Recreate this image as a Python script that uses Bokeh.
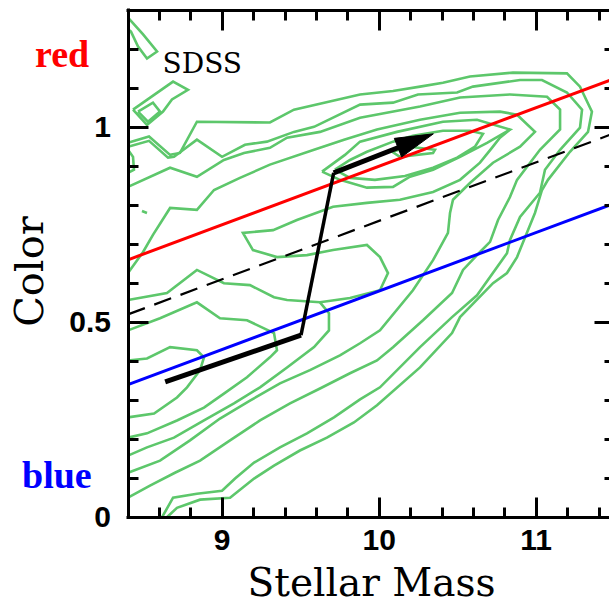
import numpy as np
from bokeh.plotting import figure
from bokeh.models import Range1d, LinearAxis, SingleIntervalTicker, NumeralTickFormatter, Label
from bokeh.embed import file_html
from bokeh.resources import INLINE

# ---------------- data ----------------
x_ticks_interval = 1.0
y_ticks_interval = 0.5
x_label = "Stellar Mass"
y_label = "Color"
x_lim = (8.4, 11.5)
y_lim = (0.0, 1.3)

# contour lines (stellar mass, color)
c1_x = [8.400, 8.534, 8.668, 8.731, 8.839, 9.304, 9.457, 9.878, 10.088, 10.260, 10.406, 10.578, 10.852, 11.196, 11.279, 11.355, 11.330, 11.215, 11.075, 11.037, 10.992, 10.878, 10.814, 10.725, 10.515, 10.464, 10.260, 9.986, 9.839, 9.667, 9.495, 9.330, 9.203, 9.050, 8.859, 8.712, 8.648]
c1_y = [0.960, 0.976, 0.929, 0.934, 1.014, 1.012, 1.045, 1.084, 1.093, 1.104, 1.114, 1.130, 1.140, 1.138, 1.104, 1.040, 0.988, 0.937, 0.865, 0.839, 0.780, 0.667, 0.626, 0.600, 0.513, 0.472, 0.384, 0.287, 0.243, 0.204, 0.171, 0.132, 0.099, 0.050, 0.045, 0.024, 0.000]

c2_x = [8.400, 8.534, 8.655, 8.693, 8.839, 8.999, 9.145, 9.285, 9.457, 9.585, 9.878, 10.088, 10.247, 10.496, 10.597, 10.897, 11.037, 11.196, 11.292, 11.279, 11.152, 11.056, 11.024, 10.897, 10.833, 10.814, 10.623, 10.464, 10.260, 10.005, 9.878, 9.712, 9.540, 9.368, 9.203, 9.082, 8.999, 8.839, 8.687, 8.617]
c2_y = [0.950, 0.965, 0.922, 0.924, 0.968, 0.924, 0.955, 0.963, 0.988, 1.001, 1.058, 1.063, 1.084, 1.089, 1.104, 1.121, 1.121, 1.089, 1.045, 0.999, 0.942, 0.891, 0.832, 0.770, 0.711, 0.677, 0.569, 0.513, 0.436, 0.333, 0.302, 0.256, 0.215, 0.179, 0.140, 0.099, 0.068, 0.060, 0.050, 0.000]

c3_x = [8.400, 8.668, 8.839, 9.011, 9.139, 9.304, 9.413, 9.623, 9.878, 10.260, 10.515, 10.833, 11.069, 11.152, 11.152, 11.024, 10.878, 10.833, 10.757, 10.706, 10.642, 10.534, 10.464, 10.279, 10.088, 9.986, 9.814, 9.623, 9.432, 9.241, 9.050, 8.859, 8.699, 8.540, 8.400]
c3_y = [0.847, 0.896, 0.873, 0.916, 0.934, 0.947, 0.973, 0.988, 1.024, 1.053, 1.076, 1.084, 1.078, 1.045, 0.994, 0.942, 0.865, 0.821, 0.762, 0.706, 0.680, 0.634, 0.575, 0.505, 0.436, 0.402, 0.369, 0.330, 0.292, 0.248, 0.197, 0.145, 0.114, 0.081, 0.050]

c4_x = [8.400, 8.496, 8.559, 8.668, 8.839, 8.948, 9.113, 9.304, 9.585, 9.776, 9.986, 10.260, 10.515, 10.769, 10.878, 10.992, 10.897, 10.725, 10.578, 10.470, 10.451, 10.438, 10.343, 10.215, 10.005, 9.878, 9.750, 9.559, 9.368, 9.177, 8.986, 8.795, 8.604, 8.400]
c4_y = [0.626, 0.680, 0.724, 0.793, 0.788, 0.839, 0.870, 0.904, 0.942, 0.968, 0.994, 1.019, 1.037, 1.040, 1.032, 0.988, 0.950, 0.909, 0.857, 0.814, 0.780, 0.729, 0.659, 0.582, 0.479, 0.446, 0.415, 0.377, 0.343, 0.299, 0.253, 0.197, 0.145, 0.114]

c5_x = [8.400, 8.648, 8.839, 9.011, 9.177, 9.330, 9.413, 9.623, 9.814, 10.005, 10.056, 10.005, 9.922, 9.706, 9.540, 9.349, 9.196, 9.132, 9.324, 9.476, 9.706, 9.922, 10.132, 10.343, 10.515, 10.642, 10.718, 10.769, 10.833]
c5_y = [0.557, 0.575, 0.634, 0.600, 0.595, 0.564, 0.557, 0.551, 0.562, 0.582, 0.626, 0.667, 0.698, 0.685, 0.672, 0.667, 0.685, 0.729, 0.736, 0.762, 0.796, 0.806, 0.814, 0.834, 0.865, 0.909, 0.947, 0.973, 0.994]

c5b_x = [9.623, 9.680, 9.680, 9.585, 9.413, 9.241, 9.075, 8.884, 8.693, 8.521, 8.400]
c5b_y = [0.551, 0.523, 0.479, 0.436, 0.384, 0.333, 0.292, 0.248, 0.204, 0.179, 0.158]

c6_x = [8.400, 8.604, 8.839, 8.986, 9.158, 9.330, 9.349, 9.304, 9.158, 9.011, 8.884, 8.712, 8.521, 8.400]
c6_y = [0.479, 0.510, 0.551, 0.510, 0.505, 0.472, 0.428, 0.410, 0.359, 0.317, 0.281, 0.248, 0.215, 0.204]

c7_x = [8.400, 8.521, 8.668, 8.839, 8.884, 8.859, 8.776, 8.712, 8.566, 8.400]
c7_y = [0.402, 0.407, 0.436, 0.428, 0.410, 0.377, 0.333, 0.307, 0.266, 0.256]

p5_x = [9.636, 9.782, 9.878, 10.113, 10.406, 10.623, 10.833, 10.687, 10.515, 10.343, 10.196, 10.088, 9.922, 9.750, 9.636]
p5_y = [0.886, 0.929, 0.963, 0.988, 1.014, 1.019, 0.994, 0.960, 0.924, 0.891, 0.873, 0.847, 0.845, 0.865, 0.886]

p6_x = [9.718, 9.814, 9.922, 10.088, 10.215, 10.406, 10.578, 10.661, 10.610, 10.496, 10.343, 10.164, 9.973, 9.814, 9.718]
p6_y = [0.891, 0.916, 0.937, 0.963, 0.978, 0.991, 0.991, 0.983, 0.950, 0.922, 0.896, 0.875, 0.865, 0.870, 0.891]

p7_x = [10.082, 10.132, 10.343, 10.355, 10.196, 10.082]
p7_y = [0.937, 0.924, 0.934, 0.942, 0.950, 0.937]

b1_x = [8.400, 8.496, 8.585, 8.521, 8.464, 8.419, 8.400]
b1_y = [1.281, 1.238, 1.194, 1.176, 1.207, 1.245, 1.251]

b2_x = [8.432, 8.687, 8.782, 8.680, 8.623, 8.521, 8.432]
b2_y = [1.045, 1.117, 1.096, 1.071, 1.040, 1.006, 1.045]

b3_x = [8.464, 8.559, 8.604, 8.527, 8.464]
b3_y = [1.040, 1.063, 1.040, 1.014, 1.040]

b4_x = [8.400, 8.432, 8.438, 8.400]
b4_y = [0.942, 0.924, 0.891, 0.883]

b5_x = [8.489, 8.521]
b5_y = [0.785, 0.780]

# straight lines: red sequence, blue cloud, divider
red_x = [8.4, 11.5]
red_y = [0.660, 1.125]
blue_x = [8.4, 11.5]
blue_y = [0.340, 0.805]
div_x = [8.4, 11.5]
div_y = [0.520, 0.985]

# evolutionary track (arrow)
track_x = [8.637, 9.502, 9.710, 10.345]
track_y = [0.347, 0.467, 0.883, 0.983]

# ---------------- figure ----------------
W, H = 609, 608
PX_X = 157.0   # pixels per unit of stellar mass
PX_Y = 390.0   # pixels per unit of color
X0 = x_lim[0] - 127.5 / PX_X
X1 = X0 + W / PX_X
Y0 = y_lim[0] - 91.3 / PX_Y
Y1 = Y0 + H / PX_Y
GREEN = "#5dc76b"

p = figure(width=W, height=H,
           x_range=Range1d(X0, X1), y_range=Range1d(Y0, Y1),
           output_backend="svg", toolbar_location=None,
           x_axis_location=None, y_axis_location=None,
           min_border=0, min_border_left=0, min_border_right=0,
           min_border_top=0, min_border_bottom=0)
p.outline_line_color = None
p.grid.visible = False
p.background_fill_color = "white"
p.border_fill_color = "white"


def make_axis(interval, loc, bounds, show_labels, tick_in=20, minor_in=10, line=True):
    ax = LinearAxis(ticker=SingleIntervalTicker(interval=interval, num_minor_ticks=5),
                    fixed_location=loc, bounds=bounds)
    ax.axis_line_width = 3
    ax.axis_line_color = "black" if line else None
    ax.major_tick_line_width = 3
    ax.minor_tick_line_width = 3
    ax.major_tick_in = tick_in
    ax.major_tick_out = 0
    ax.minor_tick_in = minor_in
    ax.minor_tick_out = 0
    if show_labels:
        ax.major_label_text_font = "Liberation Sans"
        ax.major_label_text_font_style = "bold"
        ax.major_label_text_font_size = "30px"
        ax.major_label_text_color = "black"
        ax.formatter = NumeralTickFormatter(format="0.[0]")
    else:
        ax.major_label_text_color = None
    return ax


xb = (x_lim[0] - 0.01, x_lim[1])
yb = (y_lim[0], y_lim[1] + 0.004)
bottom = make_axis(x_ticks_interval, y_lim[0], xb, True)
bottom.major_label_standoff = 13
left = make_axis(y_ticks_interval, x_lim[0], yb, True)
left.major_label_standoff = 17
top = make_axis(x_ticks_interval, y_lim[1], xb, False)
right = make_axis(y_ticks_interval, x_lim[1], yb, False, line=False)
p.add_layout(bottom, "below")
p.add_layout(left, "left")
p.add_layout(top, "above")
p.add_layout(right, "right")

# contours
cx = [c1_x, c2_x, c3_x, c4_x, c5_x, c5b_x, c6_x, c7_x, p5_x, p6_x, p7_x, b1_x, b2_x, b3_x, b4_x, b5_x]
cy = [c1_y, c2_y, c3_y, c4_y, c5_y, c5b_y, c6_y, c7_y, p5_y, p6_y, p7_y, b1_y, b2_y, b3_y, b4_y, b5_y]
p.multi_line(xs=cx, ys=cy, line_color=GREEN, line_width=2.6, line_join="miter")

# reference lines
p.line(red_x, red_y, line_color="#ff0000", line_width=3)
p.line(div_x, div_y, line_color="black", line_width=2.2, line_dash="18 10")
p.line(blue_x, blue_y, line_color="#0000ff", line_width=3)

# evolutionary track with arrow head
tx, ty = track_x[-1], track_y[-1]
px_, py_ = track_x[-2], track_y[-2]
d = np.array([(tx - px_) * PX_X, (ty - py_) * PX_Y])
u = d / np.linalg.norm(d)
n = np.array([-u[1], u[0]])
head_len, head_half = 38.0, 10.0
base = -head_len * u
c_a = base + head_half * n
c_b = base - head_half * n
head_x = [tx, tx + c_a[0] / PX_X, tx + c_b[0] / PX_X]
head_y = [ty, ty + c_a[1] / PX_Y, ty + c_b[1] / PX_Y]
shaft_end_x = tx + (base[0] + 4 * u[0]) / PX_X
shaft_end_y = ty + (base[1] + 4 * u[1]) / PX_Y

p.line(track_x[0:2], track_y[0:2], line_color="black", line_width=5)
p.line(track_x[1:3], track_y[1:3], line_color="black", line_width=3.5)
p.line([track_x[2], shaft_end_x], [track_y[2], shaft_end_y], line_color="black", line_width=5)
p.patch(head_x, head_y, fill_color="black", line_color="black", line_width=1)

# texts
p.add_layout(Label(x=8.62, y=1.164, text="SDSS", text_font="DejaVu Serif",
                   text_font_size="28px", text_color="black", text_baseline="alphabetic"))
p.add_layout(Label(x=7.808, y=1.188, text="red", text_font="Liberation Serif",
                   text_font_style="bold", text_font_size="38px", text_color="#ff0000",
                   text_baseline="alphabetic"))
p.add_layout(Label(x=7.725, y=0.107, text="blue", text_font="Liberation Serif",
                   text_font_style="bold", text_font_size="38px", text_color="#0000ff",
                   text_baseline="alphabetic"))
p.add_layout(Label(x=9.951, y=-0.168, text=x_label, text_font="DejaVu Serif",
                   text_font_size="39px", text_color="black", text_align="center",
                   text_baseline="alphabetic"))
p.add_layout(Label(x=7.772, y=0.630, text=y_label, text_font="DejaVu Serif",
                   text_font_size="40px", text_color="black", text_align="center",
                   text_baseline="alphabetic", angle=np.pi / 2))

open("out.html", "w").write(file_html(p, INLINE))
